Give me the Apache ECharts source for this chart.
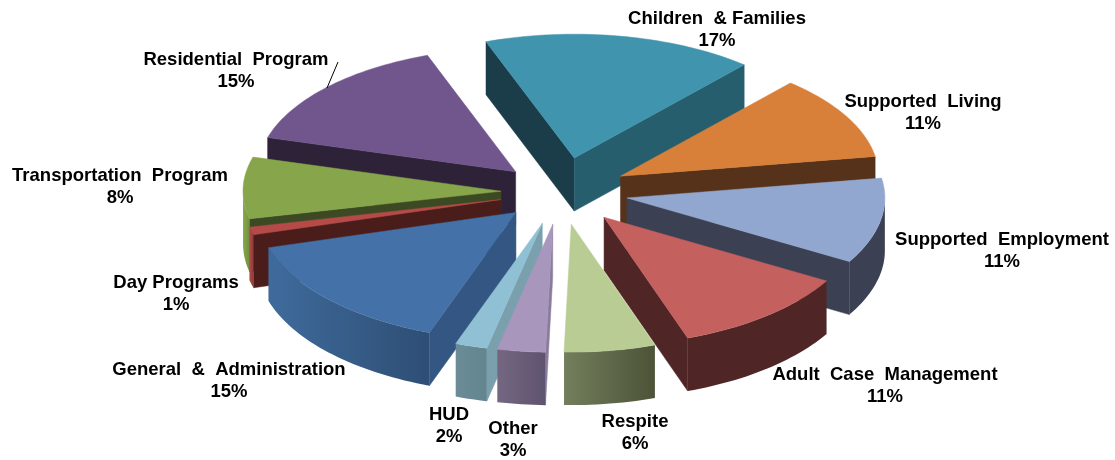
<!DOCTYPE html>
<html><head><meta charset="utf-8">
<style>html,body{margin:0;padding:0;background:#fff}#c{width:1115px;height:460px}</style>
<script src="https://cdn.jsdelivr.net/npm/echarts@6/dist/echarts.min.js"></script>
</head><body><div id="c"></div>
<script>
const categories = ['Children  & Families','Supported  Living','Supported  Employment','Adult  Case  Management','Respite','Other','HUD','General  &  Administration','Day Programs','Transportation  Program','Residential  Program'];
const percents = [17,11,11,11.3,5.7,3,2,15,1,8,15];

// styling, one entry per category
const explode = [72,68,67,68,68,68,68,62,62,60,62];
const topColors = ['#4094ad','#d8803a','#92a7cf','#c4605e','#b9cc94','#a896bd','#8fc0d3','#4371a8','#b54a48','#87a54a','#71568e'];
const startWall = ['#1b3d49','#56321a','#3b4152','#4f2625','#4c5338','#8a7c9c','#7aa0ae','#335682','#4a1c1a','#3b4a22','#2e2238'];
const endWall   = ['#265e6e','#56321a','#3b4152','#4f2625','#4c5338','#5e5370','#6b8c96','#335682','#4a1c1a','#3b4a22','#2e2238'];
const arcLeft   = ['#265e6e','#56321a','#3b4152','#4f2625','#737f5c','#756781','#6b8c96','#3f6b9c','#b54a48','#8aa84c','#2e2238'];
const arcRight  = ['#265e6e','#56321a','#3b4152','#4f2625','#4c5338','#5e5370','#628590','#2e4e74','#8c3a38','#71903f','#2e2238'];
const labelAnchors = [[717,30],[923,113],[1002,251],[885,386],[635,433],[513,440],[449,426],[229,381],[176,294],[120,187],[236,71]];

const cx = 561, cy = 192, R = 258, K = 0.48, K_FRONT = 0.0155, DEPTH = 53, START = -20;
const RAD = Math.PI / 180;
const total = percents.reduce((a, b) => a + b, 0);
const starts = [];
percents.reduce((acc, v, i) => { starts[i] = acc; return acc + v / total * 360; }, START);

function pt(tip, a, r, dz) {
  const c = Math.cos(a * RAD);
  const k = K + K_FRONT * Math.max(0, -c);   // the front of the pie is a little nearer the viewer
  return [tip[0] + r * Math.sin(a * RAD), tip[1] - r * k * c + (dz || 0)];
}
function arc(tip, a0, a1, dz) {
  const n = Math.max(2, Math.ceil((a1 - a0) / 1.5)), out = [];
  for (let i = 0; i <= n; i++) out.push(pt(tip, a0 + (a1 - a0) * i / n, R, dz));
  return out;
}
function poly(points, fill) {
  return { type: 'polygon', shape: { points }, style: { fill, stroke: fill, lineWidth: 0.5 }, silent: true };
}
function sliceMid(i) { return starts[i] + percents[i] / total * 180; }

// back-to-front drawing order, derived from the slice direction
const order = categories.map((_, i) => i).sort((p, q) => -Math.cos(sliceMid(p) * RAD) + Math.cos(sliceMid(q) * RAD));
const seriesData = order.map(i => [i, percents[i]]);

function renderItem(params, api) {
  const i = api.value(0), v = api.value(1);
  const a0 = starts[i], a1 = a0 + v / total * 360, mid = (a0 + a1) / 2;
  const tip = [cx + explode[i] * Math.sin(mid * RAD), cy - explode[i] * K * Math.cos(mid * RAD)];
  const kids = [];
  // flat side at the start edge, if it faces the viewer
  if (-Math.cos((a0 - 90) * RAD) > 0) {
    const p = pt(tip, a0, R);
    kids.push(poly([tip, p, [p[0], p[1] + DEPTH], [tip[0], tip[1] + DEPTH]], startWall[i]));
  }
  if (-Math.cos((a1 + 90) * RAD) > 0) {
    const p = pt(tip, a1, R);
    kids.push(poly([tip, p, [p[0], p[1] + DEPTH], [tip[0], tip[1] + DEPTH]], endWall[i]));
  }
  // outer rim, only the front half
  const f0 = Math.max(a0, 90), f1 = Math.min(a1, 270);
  if (f1 > f0) {
    const topEdge = arc(tip, f0, f1, 0), botEdge = arc(tip, f0, f1, DEPTH).reverse();
    const fill = new echarts.graphic.LinearGradient(0, 0, 1, 0, [
      { offset: 0, color: arcLeft[i] }, { offset: 1, color: arcRight[i] }]);
    kids.push({ type: 'polygon', shape: { points: topEdge.concat(botEdge) }, style: { fill }, silent: true });
  }
  // top face
  kids.push(poly([tip].concat(arc(tip, a0, a1, 0)), topColors[i]));
  return { type: 'group', children: kids };
}

const labelFont = 'bold 18.5px "Liberation Sans", Arial, sans-serif';
const graphicEls = categories.map((name, i) => ({
  type: 'text', x: labelAnchors[i][0], y: labelAnchors[i][1], silent: true, z: 50,
  style: { text: name + '\n' + Math.round(percents[i]) + '%', font: labelFont, fill: '#000', align: 'center', verticalAlign: 'middle', lineHeight: 22.5 }
}));
graphicEls.push({ type: 'line', silent: true, z: 50, shape: { x1: 338, y1: 62, x2: 327, y2: 88 }, style: { stroke: '#000', lineWidth: 1 } });

const chart = echarts.init(document.getElementById('c'), null, { renderer: 'canvas' });
chart.setOption({
  backgroundColor: '#fff',
  animation: false,
  graphic: graphicEls,
  series: [{ type: 'custom', coordinateSystem: 'none', silent: true, clip: false, data: seriesData, renderItem }]
});
</script></body></html>
